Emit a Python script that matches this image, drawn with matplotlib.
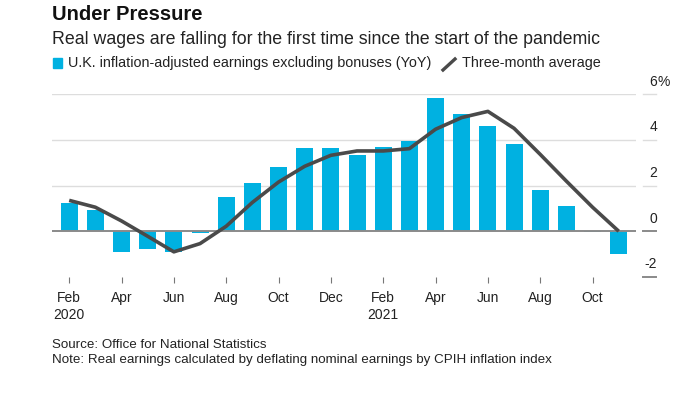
import matplotlib.pyplot as plt
from matplotlib.patches import Rectangle
from matplotlib.lines import Line2D
import matplotlib.transforms as mtransforms

plt.rcParams['font.family'] = ['Liberation Sans', 'DejaVu Sans']

# monthly data, Feb 2020 .. Nov 2021
months = ['Feb', 'Mar', 'Apr', 'May', 'Jun', 'Jul', 'Aug', 'Sep', 'Oct', 'Nov', 'Dec', 'Jan',
          'Feb', 'Mar', 'Apr', 'May', 'Jun', 'Jul', 'Aug', 'Sep', 'Oct', 'Nov']
years = ['2020', '', '', '', '', '', '', '', '', '', '', '',
         '2021', '', '', '', '', '', '', '', '', '']
earnings = [1.23, 0.92, -0.90, -0.76, -0.90, -0.09, 1.49, 2.09, 2.79, 3.63, 3.63, 3.32,
            3.70, 3.93, 5.81, 5.12, 4.62, 3.80, 1.80, 1.10, -0.02, -0.98]
three_month = [1.35, 1.05, 0.45, -0.22, -0.90, -0.54, 0.22, 1.26, 2.15, 2.84, 3.32, 3.51,
               3.51, 3.61, 4.46, 4.97, 5.24, 4.50, 3.36, 2.19, 1.05, 0.0]
y_levels = [6, 4, 2, 0, -2]

BLUE = '#00B1E1'
DARK = '#4a4a4a'

fig = plt.figure(figsize=(6.99, 3.94), dpi=100)
W, H = 699, 394
ax = fig.add_axes([52 / W, 1 - 277 / H, 584 / W, 183 / H])

x = list(range(len(earnings)))
ax.bar(x, earnings, width=0.65, color=BLUE, zorder=2)
ax.plot(x, three_month, color=DARK, lw=2.6, zorder=4, solid_capstyle='butt')

for v in y_levels[:3]:
    ax.axhline(v, color='#dddddd', lw=1, zorder=1)
ax.axhline(0, color='#8a8a8a', lw=1.4, zorder=3)

ax.set_xlim(-0.657, 21.66)
ax.set_ylim(-2, 6)
for s in ax.spines.values():
    s.set_visible(False)
ax.set_yticks([])

ticks = x[::2]
ax.set_xticks(ticks)
ax.set_xticklabels([months[i] + ('\n' + years[i] if years[i] else '') for i in ticks],
                   fontsize=10, color='#222222', linespacing=1.3)
ax.tick_params(axis='x', length=4, width=0.8, color='#777777', pad=6)

# right-hand value labels with short tick dashes
trans = mtransforms.blended_transform_factory(ax.transAxes, ax.transData)
for v in y_levels:
    c = '#8a8a8a' if v in (0, -2) else '#dddddd'
    ax.add_line(Line2D([591 / 584, 604 / 584], [v, v], transform=trans, color=c,
                       lw=1.4 if v in (0, -2) else 1, clip_on=False))
    ax.annotate(str(v), xy=(605 / 584, v), xycoords=trans, xytext=(0, 9),
                textcoords='offset points', ha='right', va='center',
                fontsize=10, color='#222222', annotation_clip=False)
    if v == 6:
        ax.annotate('%', xy=(605 / 584, v), xycoords=trans, xytext=(0, 9),
                    textcoords='offset points', ha='left', va='center',
                    fontsize=10, color='#222222', annotation_clip=False)

# title block
fig.text(52 / W, 1 - 15 / H, 'Under Pressure', fontsize=14.5, fontweight='bold',
         va='center', ha='left', color='#111111')
fig.text(52 / W, 1 - 40 / H, 'Real wages are falling for the first time since the start of the pandemic',
         fontsize=12.8, va='center', ha='left', color='#222222')

# legend
fig.add_artist(Rectangle((53 / W, 1 - 68 / H), 9 / W, 10 / H, transform=fig.transFigure,
                         color=BLUE))
fig.text(68 / W, 1 - 63 / H, 'U.K. inflation-adjusted earnings excluding bonuses (YoY)',
         fontsize=10.4, va='center', ha='left', color='#222222')
fig.add_artist(Line2D([443 / W, 455 / W], [1 - 70 / H, 1 - 59 / H], transform=fig.transFigure,
                      color=DARK, lw=2.4))
fig.text(462 / W, 1 - 63 / H, 'Three-month average', fontsize=10.4, va='center', ha='left',
         color='#222222')

# footer
fig.text(52 / W, 1 - 345 / H, 'Source: Office for National Statistics', fontsize=9.6,
         va='center', ha='left', color='#222222')
fig.text(52 / W, 1 - 360 / H,
         'Note: Real earnings calculated by deflating nominal earnings by CPIH inflation index',
         fontsize=9.6, va='center', ha='left', color='#222222')

fig.savefig('out.png', dpi=100)
